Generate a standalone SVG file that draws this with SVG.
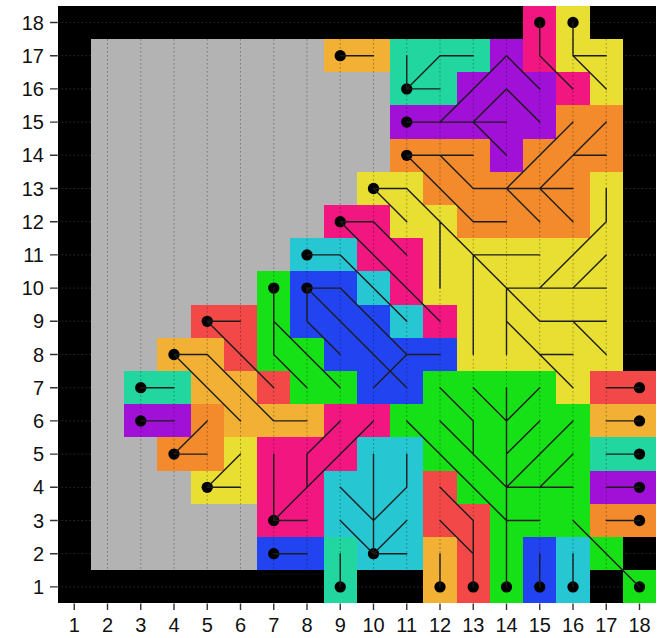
<svg xmlns="http://www.w3.org/2000/svg" width="658" height="638" viewBox="0 0 658 638">
<style>
.k{fill:#000}.g{fill:#b3b3b3}.am{fill:#f2b134}.te{fill:#22d6a0}.pu{fill:#a010d6}.or{fill:#f38a2c}.ye{fill:#e8df32}.pk{fill:#f21680}.cy{fill:#26c6d2}.bl{fill:#2244f0}.gr{fill:#16e016}.rd{fill:#f24848}
rect{shape-rendering:crispEdges}
circle{fill:#000}
.ln path{fill:none;stroke:#1c1c1c;stroke-width:0.042;stroke-linecap:round;stroke-linejoin:round}
.ax text{font-family:"Liberation Sans",Arial,sans-serif;font-size:20px;fill:#111}
.ax path{stroke:#333;stroke-width:1.4;fill:none}
</style>
<rect width="658" height="638" fill="#fff"/>
<g id="frame" transform="matrix(33.25 0 0 -33.2 41 620.1)">
<rect class="k" x="0.5" y="0.5" width="18" height="18"/>
</g>
<g id="border-grid" stroke="#2e2e2e" stroke-width="1" stroke-dasharray="1.5 2.5">
<path d="M57.6 586.9H656M57.6 553.7H656M57.6 520.5H656M57.6 487.3H656M57.6 454.1H656M57.6 420.9H656M57.6 387.7H656M57.6 354.5H656M57.6 321.3H656M57.6 288.1H656M57.6 254.9H656M57.6 221.7H656M57.6 188.5H656M57.6 155.3H656M57.6 122.1H656M57.6 88.9H656M57.6 55.7H656M57.6 22.5H656"/>
</g>
<g id="cells" transform="matrix(33.25 0 0 -33.2 41 620.1)">
<rect id="background-gray" class="g" x="1.5" y="1.5" width="16" height="16"/>
<g id="r-amber-9-17" class="am"><rect x="8.5" y="16.5" width="2" height="1"/><circle cx="9" cy="17" r="0.17"/></g>
<g id="r-teal-11-16" class="te"><rect x="10.5" y="16.5" width="3" height="1"/><rect x="10.5" y="15.5" width="2" height="1"/><circle cx="11" cy="16" r="0.17"/></g>
<g id="r-purple-11-15" class="pu"><rect x="13.5" y="16.5" width="1" height="1"/><rect x="12.5" y="15.5" width="3" height="1"/><rect x="10.5" y="14.5" width="5" height="1"/><rect x="13.5" y="13.5" width="1" height="1"/><circle cx="11" cy="15" r="0.17"/></g>
<g id="r-pink-15-18" class="pk"><rect x="14.5" y="16.5" width="1" height="2"/><rect x="15.5" y="15.5" width="1" height="1"/><circle cx="15" cy="18" r="0.17"/></g>
<g id="r-yellow-16-18" class="ye"><rect x="15.5" y="16.5" width="1" height="2"/><rect x="16.5" y="15.5" width="1" height="2"/><circle cx="16" cy="18" r="0.17"/></g>
<g id="r-orange-11-14" class="or"><rect x="15.5" y="14.5" width="2" height="1"/><rect x="10.5" y="13.5" width="3" height="1"/><rect x="14.5" y="13.5" width="3" height="1"/><rect x="11.5" y="12.5" width="5" height="1"/><rect x="12.5" y="11.5" width="4" height="1"/><circle cx="11" cy="14" r="0.17"/></g>
<g id="r-yellow-10-13" class="ye"><rect x="9.5" y="12.5" width="2" height="1"/><rect x="16.5" y="11.5" width="1" height="2"/><rect x="10.5" y="11.5" width="2" height="1"/><rect x="11.5" y="9.5" width="6" height="2"/><rect x="12.5" y="7.5" width="5" height="2"/><rect x="15.5" y="6.5" width="1" height="1"/><circle cx="10" cy="13" r="0.17"/></g>
<g id="r-pink-9-12" class="pk"><rect x="8.5" y="11.5" width="2" height="1"/><rect x="9.5" y="10.5" width="2" height="1"/><rect x="10.5" y="9.5" width="1" height="1"/><rect x="11.5" y="8.5" width="1" height="1"/><circle cx="9" cy="12" r="0.17"/></g>
<g id="r-cyan-8-11" class="cy"><rect x="7.5" y="10.5" width="2" height="1"/><rect x="9.5" y="9.5" width="1" height="1"/><rect x="10.5" y="8.5" width="1" height="1"/><circle cx="8" cy="11" r="0.17"/></g>
<g id="r-green-7-10" class="gr"><rect x="6.5" y="8.5" width="1" height="2"/><rect x="6.5" y="7.5" width="2" height="1"/><rect x="7.5" y="6.5" width="2" height="1"/><circle cx="7" cy="10" r="0.17"/></g>
<g id="r-blue-8-10" class="bl"><rect x="7.5" y="9.5" width="2" height="1"/><rect x="7.5" y="8.5" width="3" height="1"/><rect x="8.5" y="7.5" width="4" height="1"/><rect x="9.5" y="6.5" width="2" height="1"/><circle cx="8" cy="10" r="0.17"/></g>
<g id="r-red-5-9" class="rd"><rect x="4.5" y="8.5" width="2" height="1"/><rect x="5.5" y="7.5" width="1" height="1"/><rect x="6.5" y="6.5" width="1" height="1"/><circle cx="5" cy="9" r="0.17"/></g>
<g id="r-amber-4-8" class="am"><rect x="3.5" y="7.5" width="2" height="1"/><rect x="4.5" y="6.5" width="2" height="1"/><rect x="5.5" y="5.5" width="3" height="1"/><circle cx="4" cy="8" r="0.17"/></g>
<g id="r-teal-3-7" class="te"><rect x="2.5" y="6.5" width="2" height="1"/><circle cx="3" cy="7" r="0.17"/></g>
<g id="r-purple-3-6" class="pu"><rect x="2.5" y="5.5" width="2" height="1"/><circle cx="3" cy="6" r="0.17"/></g>
<g id="r-orange-4-5" class="or"><rect x="3.5" y="4.5" width="2" height="1"/><rect x="4.5" y="5.5" width="1" height="1"/><circle cx="4" cy="5" r="0.17"/></g>
<g id="r-yellow-5-4" class="ye"><rect x="4.5" y="3.5" width="2" height="1"/><rect x="5.5" y="4.5" width="1" height="1"/><circle cx="5" cy="4" r="0.17"/></g>
<g id="r-pink-7-3" class="pk"><rect x="8.5" y="5.5" width="2" height="1"/><rect x="6.5" y="4.5" width="3" height="1"/><rect x="6.5" y="2.5" width="2" height="2"/><circle cx="7" cy="3" r="0.17"/></g>
<g id="r-blue-7-2" class="bl"><rect x="6.5" y="1.5" width="2" height="1"/><circle cx="7" cy="2" r="0.17"/></g>
<g id="r-teal-9-1" class="te"><rect x="8.5" y="0.5" width="1" height="2"/><circle cx="9" cy="1" r="0.17"/></g>
<g id="r-cyan-10-2" class="cy"><rect x="9.5" y="4.5" width="2" height="1"/><rect x="8.5" y="2.5" width="3" height="2"/><rect x="9.5" y="1.5" width="2" height="1"/><circle cx="10" cy="2" r="0.17"/></g>
<g id="r-amber-12-1" class="am"><rect x="11.5" y="0.5" width="1" height="2"/><circle cx="12" cy="1" r="0.17"/></g>
<g id="r-red-13-1" class="rd"><rect x="11.5" y="2.5" width="1" height="2"/><rect x="12.5" y="0.5" width="1" height="3"/><circle cx="13" cy="1" r="0.17"/></g>
<g id="r-green-14-1" class="gr"><rect x="11.5" y="6.5" width="4" height="1"/><rect x="10.5" y="5.5" width="6" height="1"/><rect x="11.5" y="4.5" width="5" height="1"/><rect x="12.5" y="3.5" width="4" height="1"/><rect x="13.5" y="2.5" width="2" height="1"/><rect x="13.5" y="0.5" width="1" height="2"/><circle cx="14" cy="1" r="0.17"/></g>
<g id="r-blue-15-1" class="bl"><rect x="14.5" y="0.5" width="1" height="2"/><circle cx="15" cy="1" r="0.17"/></g>
<g id="r-cyan-16-1" class="cy"><rect x="15.5" y="0.5" width="1" height="2"/><circle cx="16" cy="1" r="0.17"/></g>
<g id="r-green-18-1" class="gr"><rect x="15.5" y="2.5" width="1" height="1"/><rect x="16.5" y="1.5" width="1" height="1"/><rect x="17.5" y="0.5" width="1" height="1"/><circle cx="18" cy="1" r="0.17"/></g>
<g id="r-red-18-7" class="rd"><rect x="16.5" y="6.5" width="2" height="1"/><circle cx="18" cy="7" r="0.17"/></g>
<g id="r-amber-18-6" class="am"><rect x="16.5" y="5.5" width="2" height="1"/><circle cx="18" cy="6" r="0.17"/></g>
<g id="r-teal-18-5" class="te"><rect x="16.5" y="4.5" width="2" height="1"/><circle cx="18" cy="5" r="0.17"/></g>
<g id="r-purple-18-4" class="pu"><rect x="16.5" y="3.5" width="2" height="1"/><circle cx="18" cy="4" r="0.17"/></g>
<g id="r-orange-18-3" class="or"><rect x="16.5" y="2.5" width="2" height="1"/><circle cx="18" cy="3" r="0.17"/></g>
</g>
<g id="grid" stroke="#000" stroke-opacity="0.35" stroke-width="1" stroke-dasharray="1.5 2.5">
<path d="M107.5 39.1V570.3M140.75 39.1V570.3M174 39.1V570.3M207.25 39.1V570.3M240.5 39.1V570.3M273.75 39.1V570.3M307 39.1V570.3M340.25 39.1V570.3M373.5 39.1V570.3M406.75 39.1V570.3M440 39.1V570.3M473.25 39.1V570.3M506.5 39.1V570.3M539.75 39.1V570.3M573 39.1V570.3M606.25 39.1V570.3"/>
</g>
<g id="connectors" class="ln" transform="matrix(33.25 0 0 -33.2 41 620.1)">
<path d="M9 17L10 17"/>
<path d="M11 16L12 17L13 17M11 16L11 17M11 16L12 16"/>
<path d="M11 15L14 15M12 15L13 16L14 17M13 15L14 14M13 15L14 16L15 15M14 17L15 16"/>
<path d="M15 18L15 17L16 16"/>
<path d="M16 18L16 17L17 17M16 17L17 16"/>
<path d="M11 14L13 14M11 14L12 13L13 12L14 12M12 14L13 13L16 13M14 13L15 12M15 13L16 12M14 13L16 15M15 13L17 15M16 14L17 14"/>
<path d="M10 13L11 13L15 9M10 13L11 12M12 12L12 10M13 11L13 8M13 11L15 11M14 10L14 8M14 10L17 10M15 10L17 12L17 13M16 10L17 11M15 9L17 9M16 9L17 8M14 9L16 7M15 8L16 8"/>
<path d="M9 12L10 12L11 11M9 12L12 9"/>
<path d="M8 11L9 11L11 9"/>
<path d="M7 10L7 8M7 9L9 7M7 8L8 7"/>
<path d="M9 10L8 10L8 9L9 8M8 10L11 7M9 10L11 8L12 8M11 8L10 7"/>
<path d="M5 9L6 9M5 9L7 7"/>
<path d="M4 8L5 8L7 6L8 6M4 8L6 6"/>
<path d="M3 7L4 7M3 6L4 6M4 5L5 5M4 5L5 6M5 4L6 4M5 4L6 5"/>
<path d="M8 3L7 3L7 5M7 3L10 6M8 4L8 5L9 6"/>
<path d="M7 2L8 2M9 1L9 2"/>
<path d="M10 2L10 5M9 3L10 2L11 3M9 4L10 3L11 4L11 5M10 2L11 2"/>
<path d="M12 1L12 2M13 1L13 3M12 3L13 2M12 4L13 3"/>
<path d="M14 1L14 7M14 3L15 3M14 3L11 6M14 4L12 6M13 5L13 6L12 7M14 6L13 7M14 4L16 6M14 5L15 6M14 6L15 7M14 4L16 4M15 4L16 5"/>
<path d="M15 1L15 2M16 1L16 2M18 1L16 3"/>
<path d="M18 7L17 7M18 6L17 6M18 5L17 5M18 4L17 4M18 3L17 3"/>
</g>
<g id="axes" class="ax">
<path d="M50 586.9H57.6M50 553.7H57.6M50 520.5H57.6M50 487.3H57.6M50 454.1H57.6M50 420.9H57.6M50 387.7H57.6M50 354.5H57.6M50 321.3H57.6M50 288.1H57.6M50 254.9H57.6M50 221.7H57.6M50 188.5H57.6M50 155.3H57.6M50 122.1H57.6M50 88.9H57.6M50 55.7H57.6M50 22.5H57.6"/>
<path d="M74.25 603.5V610M107.5 603.5V610M140.75 603.5V610M174 603.5V610M207.25 603.5V610M240.5 603.5V610M273.75 603.5V610M307 603.5V610M340.25 603.5V610M373.5 603.5V610M406.75 603.5V610M440 603.5V610M473.25 603.5V610M506.5 603.5V610M539.75 603.5V610M573 603.5V610M606.25 603.5V610M639.5 603.5V610"/>
<g text-anchor="end">
<text x="44" y="593.9">1</text><text x="44" y="560.7">2</text><text x="44" y="527.5">3</text><text x="44" y="494.3">4</text><text x="44" y="461.1">5</text><text x="44" y="427.9">6</text><text x="44" y="394.7">7</text><text x="44" y="361.5">8</text><text x="44" y="328.3">9</text><text x="44" y="295.1">10</text><text x="44" y="261.9">11</text><text x="44" y="228.7">12</text><text x="44" y="195.5">13</text><text x="44" y="162.3">14</text><text x="44" y="129.1">15</text><text x="44" y="95.9">16</text><text x="44" y="62.7">17</text><text x="44" y="29.5">18</text>
</g>
<g text-anchor="middle">
<text x="74.25" y="632">1</text><text x="107.5" y="632">2</text><text x="140.75" y="632">3</text><text x="174" y="632">4</text><text x="207.25" y="632">5</text><text x="240.5" y="632">6</text><text x="273.75" y="632">7</text><text x="307" y="632">8</text><text x="340.25" y="632">9</text><text x="373.5" y="632">10</text><text x="406.75" y="632">11</text><text x="440" y="632">12</text><text x="473.25" y="632">13</text><text x="506.5" y="632">14</text><text x="539.75" y="632">15</text><text x="573" y="632">16</text><text x="606.25" y="632">17</text><text x="639.5" y="632">18</text>
</g>
</g>
</svg>
